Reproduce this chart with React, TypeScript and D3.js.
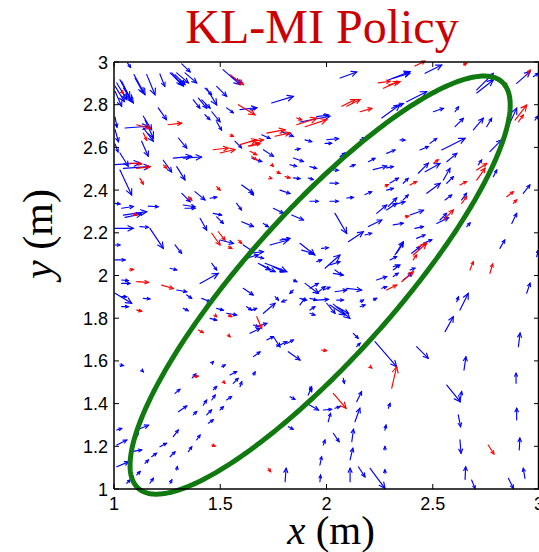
import React from "react";
import * as d3 from "d3";

// ---- Data (data units) ----
const xTicks = [1, 1.5, 2, 2.5, 3];
const yTicks = [1, 1.2, 1.4, 1.6, 1.8, 2, 2.2, 2.4, 2.6, 2.8, 3];
const titleText = "KL-MI Policy";

// ellipse: center x, center y, semi-major, semi-minor, angle (deg)
const ellipseParams = [1.97, 1.955, 1.28, 0.347, 48];

// [x, y, u, v]
const blueArrows: number[][] = [
  [1.064,2.995,.014,-.020],[1.005,2.887,.044,-.072],[1.013,2.902,.047,-.078],[1.028,2.917,.047,-.086],
  [1.036,2.910,.047,-.094],[1.044,2.878,.047,-.070],[1.005,2.863,.031,-.070],[1.094,2.941,.052,-.094],
  [1.099,2.925,.039,-.070],[1.154,2.941,.039,-.094],[1.216,2.944,.023,-.058],[1.264,2.949,.055,-.055],
  [1.272,2.949,.055,-.062],[1.287,2.941,.047,-.047],[1.295,2.949,.055,-.047],[1.319,2.991,.039,-.037],
  [1.334,2.949,.055,-.047],[1.373,2.823,.031,-.039],[1.397,2.831,.039,-.047],[1.413,2.823,.039,-.039],
  [1.428,2.878,.031,-.031],[1.483,2.886,.047,-.047],[1.436,2.877,.047,-.078],[1.428,2.753,.023,-.023],
  [1.460,2.767,.039,-.047],[1.513,2.964,.080,-.070],[1.593,2.777,.078,.009],[1.530,2.785,.031,-.023],
  [1.483,2.720,.023,-.039],[1.208,2.785,.039,-.055],[1.138,2.746,.039,-.063],[1.146,2.728,.039,-.084],
  [1.052,2.691,.110,.008],[1.005,2.683,.016,-.056],[1.138,2.691,.047,-.062],[1.303,2.644,.039,-.047],
  [1.130,2.629,.031,-.070],[1.028,2.574,.039,-.062],[1.005,2.519,.117,.008],[1.279,2.550,.086,.008],
  [1.326,2.550,.086,.005],[1.569,2.629,.031,-.031],[1.005,2.742,.009,-.047],[1.005,2.616,.014,-.037],
  [1.044,2.502,.125,.008],[1.028,2.494,.055,-.117],[1.232,2.540,.039,-.055],[1.295,2.510,.039,-.062],
  [1.319,2.385,.039,-.039],[1.381,2.393,.047,-.039],[1.452,2.362,.031,.005],[1.601,2.424,.055,-.039],
  [1.577,2.338,.023,-.031],[1.326,2.330,.055,-.008],[1.334,2.315,.047,0],[1.005,2.338,.023,-.003],
  [1.036,2.315,.055,.008],[1.161,2.325,.047,-.003],[1.044,2.283,.110,.016],[1.052,2.272,.078,.016],
  [1.467,2.291,.039,-.008],[1.483,2.275,.031,-.031],[1.405,2.268,.031,-.055],[1.601,2.252,.055,-.023],
  [1.005,2.221,.086,0],[1.122,2.229,.039,-.003],[1.169,2.221,.063,-.094],[1.499,2.166,.063,-.016],
  [1.005,2.143,.023,0],[1.287,2.143,.031,-.039],[1.005,2.073,.047,0],[1.264,2.034,.031,-.008],
  [1.460,2.057,.023,-.031],[1.405,1.963,.086,.047],[1.608,2.143,.047,-.031],[1.624,2.081,.055,.016],
  [1.036,1.979,.031,-.003],[1.036,1.963,.039,0],[1.295,1.932,.047,-.008],[1.342,1.909,.023,-.016],
  [1.005,1.917,.078,-.047],[1.036,1.901,.023,0],[1.138,1.893,.031,-.003],[1.413,1.893,.039,-.016],
  [1.036,1.854,.031,0],[1.326,1.846,.023,-.011],[1.608,1.940,.047,-.031],[1.530,1.823,.047,-.008],
  [1.624,1.854,.023,-.016],[1.452,1.799,.031,-.008],[1.656,1.768,.023,-.008],[1.483,1.846,.031,-.008],
  [1.028,1.581,.016,-.003],[1.130,1.557,.008,-.008],[1.287,1.448,.023,.019],[1.303,1.362,.039,.027],
  [1.373,1.347,.016,.016],[1.436,1.347,.023,.023],[1.420,1.393,.016,.023],[1.460,1.417,.016,.023],
  [1.467,1.464,.016,.016],[1.530,1.417,.023,.016],[1.499,1.370,.016,.016],[1.561,1.495,.023,.023],
  [1.546,1.534,.031,.016],[1.593,1.479,.008,.023],[1.507,1.573,.016,.008],[1.460,1.589,.008,.008],
  [1.013,1.276,.023,.008],[1.013,1.206,.047,.023],[1.107,1.276,.055,.023],[1.083,1.175,.047,.008],
  [1.099,1.245,.016,.016],[1.177,1.151,.023,.016],[1.216,1.198,.031,.016],[1.146,1.120,.016,.016],
  [1.107,1.066,.016,.016],[1.169,1.027,.016,.023],[1.264,1.027,.008,.016],[1.264,1.151,.023,.023],
  [1.279,1.245,.023,.031],[1.350,1.175,.016,.023],[1.389,1.230,.016,.023],[1.444,1.308,.023,.016],
  [1.295,1.089,.003,.016],[1.060,1.027,.016,.016],[1.013,1.104,.055,.023],[1.368,1.520,.017,.019],
  [1.648,1.838,.023,.008],[1.703,1.823,.055,.047],[1.672,1.760,.047,.016],[1.640,1.729,.047,.023],
  [1.719,1.698,.031,.016],[1.750,1.713,.031,-.047],[1.766,1.667,.047,.023],[1.813,1.682,.031,.016],
  [1.820,1.643,.055,-.039],[1.656,1.620,.031,.022],[1.656,1.534,.008,.014],[2.126,1.729,.023,-.023],
  [2.142,1.667,.016,.016],[2.228,1.690,.102,-.117],[2.424,1.667,.055,-.055],[2.079,1.518,.005,-.023],
  [1.922,1.479,.008,-.023],[1.750,2.315,.047,-.023],[1.703,2.244,.023,-.016],[1.836,2.283,.055,-.023],
  [1.734,2.143,.086,.023],[1.781,2.166,.047,.008],[1.640,2.104,.063,.008],[1.672,2.088,.031,-.008],
  [1.679,2.057,.055,-.031],[1.695,2.049,.063,-.031],[1.711,2.057,.102,-.039],[1.750,2.041,.047,-.023],
  [1.875,2.151,.070,-.055],[1.883,2.119,.055,-.016],[1.977,2.127,.031,.003],[2.040,2.291,.055,-.094],
  [2.103,2.158,.070,.047],[2.181,2.190,.031,.008],[2.197,2.229,.063,.031],[2.236,2.291,.047,.039],
  [2.283,2.307,.047,.031],[2.314,2.330,.055,.016],[2.393,2.283,.063,.023],[2.314,2.237,.047,.008],
  [1.954,2.065,.023,.008],[1.993,2.034,.070,.062],[2.016,2.049,.047,.016],[2.040,2.026,.031,-.023],
  [2.032,2.010,.047,-.008],[1.844,1.979,.016,-.008],[1.899,1.963,.063,-.047],[1.922,1.940,.039,.023],
  [1.954,1.917,.039,.031],[1.985,1.932,.031,.013],[1.758,1.901,.016,-.016],[1.813,1.885,-.023,-.008],
  [1.844,1.932,-.016,-.016],[1.875,1.893,.031,-.008],[1.922,1.893,.031,-.008],[1.954,1.885,.055,.003],
  [2.040,1.924,.055,.008],[2.095,1.940,.070,-.008],[2.048,1.885,.031,0],[2.001,1.870,.039,-.047],
  [2.016,1.862,.070,-.047],[2.032,1.866,.078,-.067],[2.048,1.854,.055,-.031],[1.875,1.862,.023,.031],
  [1.922,1.838,.023,.016],[1.922,1.823,.023,-.008],[2.158,1.877,.016,.008],[2.220,1.885,.016,.008],
  [2.158,1.854,.023,.008],[2.236,1.979,.047,.016],[2.260,1.940,.023,.008],[2.314,1.995,.023,.016],
  [2.314,2.041,.023,.008],[2.393,2.026,.023,.008],[2.330,2.104,.031,.047],[2.401,2.104,.039,.031],
  [2.456,2.151,.039,.016],[2.424,2.174,.039,.016],[2.416,2.221,.039,.008],[2.519,2.244,.055,.027],
  [2.299,2.073,.031,.016],[2.064,2.925,.078,.028],[2.291,2.916,.102,.039],[2.314,2.924,.078,.023],
  [2.464,2.947,.078,.039],[1.742,2.808,.102,.031],[1.640,2.775,.031,.011],[2.260,2.738,.086,.062],
  [1.875,2.719,.141,.027],[1.954,2.744,.055,.008],[1.789,2.674,.055,-.023],[1.695,2.659,.039,-.017],
  [1.899,2.635,.031,-.008],[2.001,2.636,.055,.005],[1.993,2.619,.031,0],[2.158,2.636,.023,.008],
  [1.648,2.550,.047,-.016],[1.703,2.589,.047,-.031],[1.852,2.589,.023,.005],[1.844,2.550,.047,-.016],
  [1.828,2.519,.031,-.008],[1.922,2.510,.031,-.008],[2.111,2.510,.023,.009],[2.064,2.557,.023,.017],
  [2.197,2.533,.031,.016],[2.220,2.496,.063,.016],[2.283,2.504,.031,.006],[2.283,2.572,.039,.016],
  [1.844,2.457,.031,-.003],[1.914,2.457,.023,-.008],[2.032,2.494,.023,-.001],[2.016,2.433,.039,-.001],
  [2.299,2.433,.039,.023],[1.781,2.400,.047,-.016],[1.922,2.348,.039,0],[2.016,2.348,.039,0],
  [2.095,2.363,.031,.003],[2.181,2.379,.031,.013],[2.291,2.324,.039,.039],[1.640,2.393,.016,-.016],
  [2.377,2.814,.094,.047],[2.307,2.783,.055,.023],[2.707,2.869,.078,.078],[2.707,2.855,.078,.061],
  [2.895,2.900,.063,.055],[2.973,2.931,.023,.016],[2.848,2.682,.047,.102],[2.503,2.767,.047,.016],
  [2.605,2.767,.016,.023],[2.605,2.697,.039,.039],[2.754,2.697,.023,.039],[2.691,2.682,.047,.055],
  [2.542,2.588,.110,.055],[2.769,2.580,.055,.055],[2.346,2.635,.023,-.001],[2.440,2.588,.039,.016],
  [2.487,2.619,.031,.023],[2.432,2.479,.047,.047],[2.464,2.486,.070,.039],[2.566,2.533,.047,.039],
  [2.550,2.447,.031,.055],[2.714,2.518,.016,.023],[2.785,2.463,.016,.031],[2.361,2.432,.023,.023],
  [2.472,2.385,.063,.047],[2.566,2.432,.031,.031],[2.636,2.354,.023,.031],[2.361,2.354,.023,.023],
  [2.283,2.400,.031,.008],[2.926,2.385,.031,.039],[2.872,2.244,.023,.047],[2.534,2.260,.031,.031],
  [2.660,2.229,.016,.017],[2.558,2.354,.031,.023],[2.322,2.096,.039,.062],[2.314,2.026,.031,.023],
  [2.361,1.979,.039,.031],[2.816,2.127,.023,.039],[2.989,2.088,.008,.031],[2.942,1.917,.016,.047],
  [2.613,1.877,.008,.023],[2.628,1.838,.039,.078],[2.558,1.737,.039,.070],[2.647,1.557,.009,.062],
  [2.903,1.667,.008,.063],[2.566,1.487,.063,-.078],[2.628,1.409,.008,.047],[2.892,1.495,0,.047],
  [2.620,1.347,.011,-.055],[2.895,1.323,0,.055],[2.628,1.230,.005,-.062],[2.907,1.183,.003,.055],
  [2.652,1.045,.003,.059],[2.934,1.050,-.008,.047],[2.683,1.042,.016,-.039],[2.856,1.050,.023,-.047],
  [1.828,1.432,.023,-.012],[1.914,1.440,.016,.039],[1.907,1.401,.055,-.031],[1.985,1.370,.039,.003],
  [2.040,1.378,.023,.008],[2.142,1.409,.023,.047],[2.134,1.315,.023,.063],[2.008,1.315,.011,.039],
  [1.820,1.292,.023,-.012],[2.032,1.261,.027,-.039],[2.119,1.222,.008,.058],[1.985,1.206,.008,.023],
  [2.111,1.136,.013,.055],[1.969,1.112,.008,.039],[1.805,1.034,.005,.063],[1.969,1.034,.003,.031],
  [2.111,1.034,0,.063],[2.150,1.104,.031,-.047],[2.205,1.097,.070,-.094],[2.275,1.276,.005,.023],
  [2.275,1.183,0,.016],[2.275,1.074,0,.016],[2.291,1.378,.008,.023],[1.553,2.931,.047,-.031],
  [2.981,2.728,.014,.019],
];

const redArrows: number[][] = [
  [1.546,2.941,.063,-.047],[1.585,2.800,.078,-.047],[1.107,2.706,.063,-.016],[1.255,2.706,.063,.008],
  [1.138,2.667,.016,-.033],[1.467,2.589,.070,.008],[1.499,2.574,.070,.016],[1.593,2.613,.078,.023],
  [1.632,2.606,.047,.016],[1.546,2.659,.016,-.008],[1.648,2.558,.023,-.016],[1.036,2.861,.008,-.008],
  [1.075,2.526,.055,-.003],[1.107,2.502,.063,.008],[1.122,2.455,.016,-.027],[1.232,2.518,.016,-.016],
  [1.350,2.369,.016,-.016],[1.483,2.416,.016,-.016],[1.091,2.288,.016,-.005],[1.460,2.198,.039,-.055],
  [1.491,2.205,.031,-.039],[1.585,2.166,.016,-.016],[1.072,2.026,.019,.003],[1.107,1.971,.055,-.003],
  [1.224,1.955,.055,-.016],[1.107,1.838,.023,-.005],[1.538,1.815,.016,-.008],[1.475,1.815,.008,-.008],
  [1.538,2.135,.016,-.008],[1.397,1.745,.023,-.013],[1.538,1.721,.008,-.008],[1.373,1.526,.023,.003],
  [1.514,1.503,.008,-.008],[1.460,1.206,.016,-.005],[1.672,1.807,.023,-.055],[1.977,1.651,.023,-.003],
  [2.205,1.573,.008,-.006],[2.307,1.472,.023,.101],[2.032,1.448,.060,-.070],[1.726,1.097,.011,-.016],
  [2.675,2.026,.016,.039],[2.769,2.010,.013,.044],[2.761,1.206,.027,-.042],[2.408,2.096,.063,.055],
  [2.354,1.971,.055,.047],[2.283,1.932,.047,.023],[2.291,2.892,.055,.016],[2.268,2.877,.070,.031],
  [2.244,2.902,.055,.008],[2.072,2.793,.063,.031],[2.095,2.793,.063,.031],[2.158,2.767,.055,.016],
  [1.860,2.738,.023,-.009],[1.860,2.706,.094,.031],[1.899,2.697,.102,.033],[1.719,2.667,.086,.016],
  [1.758,2.652,.070,.016],[1.640,2.627,.063,.008],[1.640,2.606,.047,.011],[1.640,2.582,.031,-.016],
  [1.742,2.519,.008,-.008],[1.766,2.486,.016,-.008],[1.734,2.457,.008,-.003],[1.805,2.463,.023,-.006],
  [2.275,2.418,.016,.008],[2.644,2.986,.016,.008],[2.832,2.884,.016,.016],[2.942,2.939,.016,.023],
  [2.887,2.728,.055,.070],[2.903,2.720,.023,.031],[2.503,2.526,.023,.016],[2.707,2.494,.047,.031],
  [2.707,2.447,.039,.055],[2.393,2.424,.031,.016],[2.628,2.424,.031,.016],[2.550,2.260,.047,.047],
  [2.636,2.338,.023,.031],[2.848,2.369,.031,.023],[2.879,2.338,.016,.016],[2.370,2.275,.016,.003],
  [2.432,2.135,.039,.016],[2.408,2.073,.016,.023],[2.416,2.981,.047,.023],
];

const W = 539;
const H = 552;
const margin = { left: 114, right: 539, top: 62, bottom: 489 };

const xScale = d3.scaleLinear().domain([1, 3]).range([margin.left, margin.right]);
const yScale = d3.scaleLinear().domain([1, 3]).range([margin.bottom, margin.top]);

function Arrow({ a, color }: { a: number[]; color: string }) {
  const [x, y, u, v] = a;
  const x0 = xScale(x), y0 = yScale(y);
  const x1 = xScale(x + u), y1 = yScale(y + v);
  const dx = x1 - x0, dy = y1 - y0;
  const len = Math.hypot(dx, dy);
  if (len < 0.5) return null;
  const ang = Math.atan2(dy, dx);
  const hl = Math.min(6.5, Math.max(3, 0.33 * len));
  const spread = 0.45;
  const hx1 = x1 - hl * Math.cos(ang - spread);
  const hy1 = y1 - hl * Math.sin(ang - spread);
  const hx2 = x1 - hl * Math.cos(ang + spread);
  const hy2 = y1 - hl * Math.sin(ang + spread);
  return (
    <g stroke={color} strokeWidth={1.15} fill="none" strokeLinecap="round">
      <line x1={x0} y1={y0} x2={x1} y2={y1} />
      <polyline points={`${hx1},${hy1} ${x1},${y1} ${hx2},${hy2}`} />
    </g>
  );
}

export default function App() {
  const [ecx, ecy, ea, eb, eangDeg] = ellipseParams;
  const th = (eangDeg * Math.PI) / 180;
  const pts = d3.range(0, 2 * Math.PI + 0.001, Math.PI / 180).map((t) => {
    const ex = ea * Math.cos(t), ey = eb * Math.sin(t);
    const X = ecx + ex * Math.cos(th) - ey * Math.sin(th);
    const Y = ecy + ex * Math.sin(th) + ey * Math.cos(th);
    return [xScale(X), yScale(Y)] as [number, number];
  });
  const ellipsePath = d3.line().curve(d3.curveLinearClosed)(pts) || "";

  const tickLen = 5;
  const sans = "'Liberation Sans', Arial, Helvetica, sans-serif";
  const serif = "'Liberation Serif', 'Times New Roman', Times, serif";

  return (
    <svg
      width={W}
      height={H}
      style={{ position: "absolute", left: 0, top: 0, background: "#fff" }}
    >
      <rect x={0} y={0} width={W} height={H} fill="#fff" />
      {blueArrows.map((a, i) => (
        <Arrow key={"b" + i} a={a} color="#0000ff" />
      ))}
      {redArrows.map((a, i) => (
        <Arrow key={"r" + i} a={a} color="#ff0000" />
      ))}
      <path d={ellipsePath} fill="none" stroke="#107a10" strokeWidth={5} />
      <g stroke="#000" strokeWidth={1.5} fill="none">
        <line x1={margin.left} y1={margin.bottom} x2={margin.right} y2={margin.bottom} />
        <line x1={margin.left} y1={margin.top} x2={margin.right} y2={margin.top} />
        <line x1={margin.left} y1={margin.top} x2={margin.left} y2={margin.bottom} />
        <line x1={margin.right - 0.5} y1={margin.top} x2={margin.right - 0.5} y2={margin.bottom} />
      </g>
      <g stroke="#000" strokeWidth={1}>
        {xTicks.map((t) => (
          <g key={"xt" + t}>
            <line x1={xScale(t)} x2={xScale(t)} y1={margin.bottom} y2={margin.bottom - tickLen} />
            <line x1={xScale(t)} x2={xScale(t)} y1={margin.top} y2={margin.top + tickLen} />
          </g>
        ))}
        {yTicks.map((t) => (
          <g key={"yt" + t}>
            <line x1={margin.left} x2={margin.left + tickLen} y1={yScale(t)} y2={yScale(t)} />
            <line x1={margin.right} x2={margin.right - tickLen} y1={yScale(t)} y2={yScale(t)} />
          </g>
        ))}
      </g>
      <g fontFamily={sans} fontSize={18} fill="#000">
        {xTicks.map((t) => (
          <text key={"xl" + t} x={xScale(t)} y={510} textAnchor="middle">
            {String(t)}
          </text>
        ))}
        {yTicks.map((t) => (
          <text key={"yl" + t} x={108} y={yScale(t) + 6.5} textAnchor="end">
            {String(t)}
          </text>
        ))}
      </g>
      <text x={322} y={43} textAnchor="middle" fontFamily={serif} fontSize={48} fill="#cc0000">
        {titleText}
      </text>
      <text x={331} y={544} textAnchor="middle" fontFamily={serif} fontSize={41} fill="#000">
        <tspan fontStyle="italic">x</tspan>
        <tspan> (m)</tspan>
      </text>
      <text
        transform={`translate(52,234) rotate(-90)`}
        textAnchor="middle"
        fontFamily={serif}
        fontSize={42}
        fill="#000"
      >
        <tspan fontStyle="italic">y</tspan>
        <tspan> (m)</tspan>
      </text>
    </svg>
  );
}
